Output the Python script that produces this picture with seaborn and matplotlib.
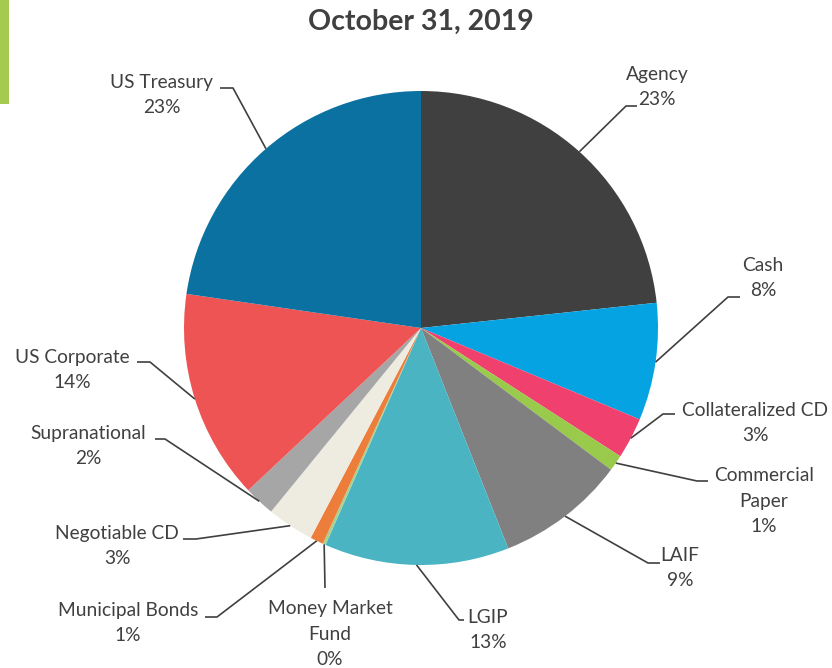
import numpy as np
import matplotlib
matplotlib.use("Agg")
import matplotlib.pyplot as plt
import seaborn as sns
from matplotlib.patches import Rectangle

categories = ["Agency", "Cash", "Collateralized CD", "Commercial\nPaper", "LAIF", "LGIP",
              "Money Market\nFund", "Municipal Bonds", "Negotiable CD", "Supranational",
              "US Corporate", "US Treasury"]
shares = [23.3, 8.0, 2.8, 1.1, 8.8, 12.6, 0.2, 0.9, 3.2, 2.1, 14.3, 22.7]
colors = ["#404040", "#05A3E2", "#F0416E", "#9ACA4C", "#808080", "#4AB4C3",
          "#A9D18E", "#ED7D3A", "#EEECE1", "#A6A6A6", "#EF5454", "#0A71A0"]

# label layout in pixels: text centre, knee of leader, end of leader
label_pos = [(657, 87), (763, 278), (755, 423), (764, 501), (680, 568), (488, 630),
             (330, 634), (128, 623), (117, 546), (88, 446), (72, 370), (162, 95)]
knees = [(626, 106), (728, 297), (663, 414), (697, 481), (648, 563), (459, 620),
         (325, 588), (217, 617), (196, 539), (165, 439), (150, 362), (233, 88)]
ends = [(637, 106), (740, 297), (675, 414), (708, 481), (660, 563), (464, 620),
        (325, 588), (205, 617), (183, 539), (155, 439), (137, 362), (220, 88)]

sns.set_style("white")
plt.rcParams["font.family"] = ["Lato", "DejaVu Sans"]
txt = "#404040"

fig = plt.figure(figsize=(8.32, 6.68), dpi=100)
ax = fig.add_axes([0, 0, 1, 1])
cx, cy, r = 421, 328, 237
wedges, _ = ax.pie(shares, colors=colors, startangle=-90, counterclock=True,
                   center=(cx, cy), radius=r, wedgeprops=dict(linewidth=0))
ax.set_xlim(0, 832)
ax.set_ylim(668, 0)
ax.set_aspect("equal")
ax.axis("off")

total = sum(shares)
for w, name, v, (tx, ty), (kx, ky), (ex, ey) in zip(wedges, categories, shares, label_pos, knees, ends):
    mid = np.deg2rad((w.theta1 + w.theta2) / 2)
    ax_ = cx + r * np.cos(mid)
    ay_ = cy + r * np.sin(mid)
    ax.plot([ax_, kx, ex], [ay_, ky, ey], color=txt, lw=1.2, solid_capstyle="butt")
    ax.text(tx, ty, f"{name}\n{v / total * 100:.0f}%", ha="center", va="center",
            multialignment="center", fontsize=13.8, color=txt, linespacing=1.6)

ax.text(421, 22, "October 31, 2019", ha="center", va="center", fontsize=20.5,
        fontweight="bold", color=txt)
ax.add_patch(Rectangle((0, 0), 9, 104, color="#A4CB50", lw=0))

fig.savefig("out.png", dpi=100)
